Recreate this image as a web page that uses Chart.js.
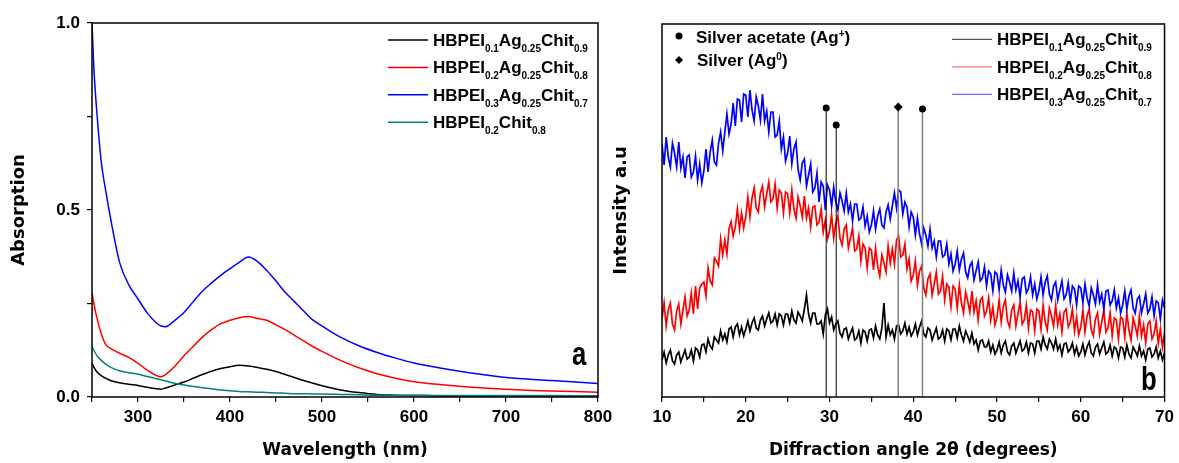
<!DOCTYPE html>
<html>
<head>
<meta charset="utf-8">
<script src="https://cdn.jsdelivr.net/npm/chart.js@4.4.1/dist/chart.umd.min.js"></script>
<style>
  html, body { margin: 0; padding: 0; background: #fff; }
  #wrap { position: relative; width: 1179px; height: 463px; overflow: hidden; background: #fff; }
  #uv { position: absolute; left: 0; top: 0; }
  #xrd { position: absolute; left: 600px; top: 0; }
</style>
</head>
<body>
<div id="wrap">
  <canvas id="uv" width="620" height="463"></canvas>
  <canvas id="xrd" width="579" height="463"></canvas>
</div>
<script>
// ---- panel a: UV-vis absorption ----
const wavelength = [250, 252, 255, 260, 265, 270, 280, 290, 300, 310, 320, 325, 330, 340, 350, 360, 370, 380, 390, 400,
  410, 420, 430, 440, 450, 460, 470, 480, 490, 500, 520, 540, 560, 580, 600, 630, 660, 700, 750, 800];
const absAg01 = [0.09, 0.08, 0.068, 0.057, 0.05, 0.044, 0.038, 0.034, 0.031, 0.026, 0.022, 0.021, 0.024, 0.032, 0.04, 0.05, 0.06, 0.069, 0.076, 0.081,
  0.085, 0.083, 0.079, 0.074, 0.068, 0.06, 0.052, 0.044, 0.037, 0.03, 0.019, 0.012, 0.007, 0.005, 0.004, 0.003, 0.003, 0.003, 0.003, 0.003];
const absAg02 = [0.28, 0.25, 0.215, 0.17, 0.14, 0.13, 0.117, 0.106, 0.09, 0.072, 0.057, 0.054, 0.06, 0.082, 0.11, 0.135, 0.16, 0.18, 0.196, 0.205,
  0.212, 0.215, 0.21, 0.205, 0.193, 0.18, 0.165, 0.15, 0.135, 0.122, 0.098, 0.078, 0.062, 0.05, 0.041, 0.033, 0.027, 0.021, 0.016, 0.013];
const absAg03 = [1.0, 0.88, 0.77, 0.63, 0.55, 0.48, 0.36, 0.3, 0.262, 0.225, 0.198, 0.19, 0.188, 0.205, 0.226, 0.255, 0.283, 0.305, 0.325, 0.343,
  0.36, 0.374, 0.362, 0.338, 0.31, 0.28, 0.255, 0.23, 0.206, 0.19, 0.16, 0.137, 0.119, 0.104, 0.091, 0.077, 0.065, 0.052, 0.044, 0.036];
const absChit = [0.134, 0.125, 0.112, 0.098, 0.088, 0.08, 0.07, 0.065, 0.061, 0.055, 0.049, 0.046, 0.043, 0.037, 0.032, 0.028, 0.025, 0.022, 0.019, 0.017,
  0.015, 0.014, 0.013, 0.012, 0.011, 0.01, 0.009, 0.009, 0.008, 0.008, 0.007, 0.006, 0.005, 0.005, 0.005, 0.004, 0.004, 0.004, 0.004, 0.003];
const uvXTicks = [300, 400, 500, 600, 700, 800];
const uvYTicks = [0, 0.5, 1];
const uvColors = ['#000000', '#ff0000', '#0000ff', '#008080'];
const uvLegend = [
  [['HBPEI'], ['0.1', 'sub'], ['Ag'], ['0.25', 'sub'], ['Chit'], ['0.9', 'sub']],
  [['HBPEI'], ['0.2', 'sub'], ['Ag'], ['0.25', 'sub'], ['Chit'], ['0.8', 'sub']],
  [['HBPEI'], ['0.3', 'sub'], ['Ag'], ['0.25', 'sub'], ['Chit'], ['0.7', 'sub']],
  [['HBPEI'], ['0.2', 'sub'], ['Chit'], ['0.8', 'sub']]
];

// ---- panel b: XRD, 2theta from 10 to 70 every 0.25 deg ----
const xrdStart = 10, xrdStep = 0.25;
const xrdAg01 = [
  37, 45, 34, 42, 47, 36, 33, 42, 45, 35, 41, 47, 38, 40, 47, 36, 49, 47, 40, 52,
  53, 45, 58, 51, 48, 60, 57, 54, 66, 57, 63, 55, 68, 70, 60, 70, 73, 62, 70, 61,
  68, 76, 66, 74, 79, 69, 67, 77, 81, 71, 78, 84, 74, 76, 83, 72, 83, 81, 72, 83,
  83, 74, 86, 77, 74, 85, 81, 76, 88, 102, 83, 74, 84, 84, 73, 73, 76, 63, 82, 88,
  74, 80, 67, 73, 76, 64, 60, 68, 69, 58, 64, 69, 57, 59, 66, 54, 67, 65, 56, 67,
  68, 59, 71, 62, 58, 69, 94, 60, 72, 62, 67, 58, 71, 72, 63, 66, 74, 63, 70, 61,
  65, 73, 62, 70, 76, 63, 60, 69, 67, 57, 63, 69, 58, 60, 67, 56, 68, 66, 57, 68,
  68, 59, 71, 62, 56, 66, 61, 55, 64, 53, 57, 47, 56, 57, 50, 50, 56, 45, 52, 43,
  47, 55, 44, 52, 56, 45, 42, 51, 54, 44, 50, 56, 46, 48, 55, 44, 54, 53, 44, 56,
  56, 48, 60, 52, 48, 58, 54, 48, 58, 47, 52, 42, 53, 54, 45, 48, 54, 43, 50, 41,
  45, 53, 42, 50, 55, 44, 41, 50, 53, 43, 49, 55, 43, 45, 52, 41, 50, 48, 39, 50,
  49, 40, 52, 43, 39, 50, 46, 41, 51, 41, 46, 37, 48, 49, 40, 43, 50, 39, 46, 37,
  44];
const xrdAg02 = [
  78, 94, 71, 87, 94, 73, 67, 86, 93, 73, 87, 100, 81, 87, 104, 83, 111, 88, 109, 113,
  115, 101, 129, 116, 112, 139, 136, 131, 158, 142, 157, 143, 168, 175, 161, 170, 188, 168, 184, 169,
  180, 200, 180, 199, 209, 189, 185, 204, 211, 190, 203, 215, 195, 198, 213, 189, 207, 204, 184, 205,
  203, 184, 207, 188, 179, 200, 191, 180, 201, 179, 189, 170, 190, 191, 172, 175, 188, 165, 177, 158,
  166, 182, 159, 174, 181, 159, 152, 168, 172, 149, 159, 169, 146, 148, 161, 136, 153, 149, 129, 149,
  147, 127, 149, 131, 121, 142, 134, 125, 151, 134, 148, 133, 157, 161, 140, 142, 153, 128, 138, 116,
  122, 136, 112, 126, 131, 109, 102, 118, 123, 102, 113, 125, 103, 106, 121, 97, 113, 110, 90, 111,
  108, 89, 112, 94, 84, 105, 96, 85, 106, 85, 96, 77, 97, 100, 81, 86, 99, 77, 90, 72,
  80, 97, 75, 91, 97, 76, 70, 87, 92, 71, 83, 95, 73, 77, 92, 69, 87, 85, 66, 88,
  86, 68, 92, 75, 67, 89, 81, 71, 92, 72, 83, 65, 85, 88, 70, 75, 88, 66, 80, 62,
  70, 87, 65, 81, 88, 67, 61, 78, 84, 63, 75, 87, 65, 69, 84, 61, 79, 77, 58, 80,
  78, 60, 84, 67, 57, 79, 71, 61, 81, 61, 72, 54, 73, 76, 58, 63, 76, 54, 68, 50,
  64];
const xrdAg03 = [
  253, 232, 260, 240, 230, 254, 244, 230, 255, 229, 240, 219, 240, 242, 220, 225, 241, 217, 233, 214,
  226, 248, 225, 245, 257, 235, 232, 254, 265, 246, 265, 283, 263, 273, 294, 271, 298, 297, 275, 303,
  302, 280, 307, 287, 276, 300, 291, 277, 303, 276, 286, 265, 285, 285, 260, 262, 276, 248, 260, 236,
  244, 261, 233, 248, 255, 227, 217, 234, 238, 211, 222, 233, 205, 209, 224, 195, 215, 211, 187, 212,
  207, 191, 210, 195, 187, 204, 196, 186, 204, 185, 193, 176, 193, 193, 177, 179, 190, 171, 181, 165,
  172, 186, 168, 181, 188, 172, 169, 185, 192, 178, 191, 204, 189, 207, 205, 183, 195, 190, 170, 185,
  180, 162, 179, 163, 153, 169, 162, 151, 168, 149, 156, 140, 156, 156, 140, 142, 153, 133, 143, 126,
  133, 146, 127, 138, 144, 125, 119, 131, 135, 117, 126, 135, 116, 119, 130, 111, 126, 123, 106, 125,
  123, 107, 127, 112, 105, 122, 115, 106, 124, 107, 116, 100, 118, 120, 104, 108, 120, 102, 113, 98,
  106, 120, 102, 115, 121, 103, 97, 111, 115, 97, 107, 116, 98, 102, 114, 95, 111, 108, 92, 111,
  109, 94, 113, 99, 91, 109, 102, 93, 112, 95, 103, 88, 106, 107, 92, 96, 107, 89, 99, 84,
  92, 106, 88, 101, 107, 89, 84, 98, 101, 84, 93, 103, 84, 88, 100, 81, 96, 94, 78, 97,
  89];
const xrdXTicks = [10, 20, 30, 40, 50, 60, 70];
const xrdColors = ['#000000', '#ff0000', '#0000ff'];
const xrdLegendColors = ['#555555', '#ff7070', '#7070ff'];
const xrdLegend = uvLegend.slice(0, 3);
const peakAngles = [29.6, 30.8, 38.2, 41.1];
const peakHeights = [289, 272, 290, 288];
const peakPhase = ['acetate', 'acetate', 'silver', 'acetate'];
const phaseLegend = [
  [['Silver acetate (Ag'], ['+', 'sup'], [')']],
  [['Silver (Ag'], ['0', 'sup'], [')']]
];

const FONT = '"Liberation Sans", Arial, sans-serif';
const TITLE_FONT = { family: '"DejaVu Sans", Verdana, sans-serif', size: 17, weight: 'bold' };
const YTITLE_FONT = { family: '"DejaVu Sans", Verdana, sans-serif', size: 18, weight: 'bold' };
const TICK_FONT = { family: FONT, size: 17, weight: 'bold' };

function drawRich(ctx, x, y, parts) {
  parts.forEach(([txt, kind]) => {
    ctx.font = kind ? 'bold 10px ' + FONT : 'bold 17px ' + FONT;
    const dy = kind === 'sub' ? 6 : kind === 'sup' ? -6 : 0;
    ctx.fillText(txt, x, y + dy);
    x += ctx.measureText(txt).width;
  });
}

function panelLetter(ctx, letter, x, y) {
  ctx.save();
  ctx.fillStyle = '#000';
  ctx.font = 'bold 33px ' + FONT;
  ctx.textBaseline = 'alphabetic';
  ctx.scale(0.78, 1);
  ctx.fillText(letter, x / 0.78, y);
  ctx.restore();
}

const frame = {
  id: 'frame',
  afterDatasetsDraw(chart) {
    const { ctx, chartArea: a } = chart;
    ctx.save();
    ctx.strokeStyle = '#000';
    ctx.lineWidth = 1.5;
    ctx.strokeRect(a.left, a.top, a.right - a.left, a.bottom - a.top);
    ctx.restore();
  }
};

function tickAxis(min, max, step, labels, fmt) {
  return {
    type: 'linear', min, max,
    border: { display: false },
    grid: { drawOnChartArea: false, color: '#000', lineWidth: 1.2, tickLength: 5 },
    ticks: {
      stepSize: step, autoSkip: false, maxRotation: 0, color: '#000', font: TICK_FONT,
      callback: v => labels.includes(v) ? fmt(v) : ''
    }
  };
}

// ---- chart a ----
const uvSeries = [absAg01, absAg02, absAg03, absChit];
const uvX = tickAxis(250, 800, 50, uvXTicks, v => String(v));
uvX.ticks.padding = 5;
uvX.title = { display: true, text: 'Wavelength (nm)', color: '#000', font: TITLE_FONT, padding: { top: 0, bottom: 2 } };
uvX.afterFit = s => { s.height = 66; };
const uvY = tickAxis(0, 1, 0.25, uvYTicks, v => v.toFixed(1));
uvY.ticks.padding = 7;
uvY.title = { display: true, text: 'Absorption', color: '#000', font: YTITLE_FONT, padding: { top: 9, bottom: 0 } };
uvY.afterFit = s => { s.width = 92; };

new Chart(document.getElementById('uv'), {
  type: 'line',
  data: {
    datasets: uvSeries.map((vals, i) => ({
      data: wavelength.map((w, j) => ({ x: w, y: vals[j] })),
      borderColor: uvColors[i],
      borderWidth: 1.5,
      pointRadius: 0,
      cubicInterpolationMode: 'monotone',
      order: 4 - i
    }))
  },
  options: {
    responsive: false, animation: false, devicePixelRatio: 1,
    layout: { padding: { left: 0, top: 23, right: 22, bottom: 0 } },
    plugins: { legend: { display: false }, tooltip: { enabled: false } },
    scales: { x: uvX, y: uvY }
  },
  plugins: [frame, {
    id: 'uvLegend',
    afterDraw(chart) {
      const ctx = chart.ctx;
      ctx.save();
      ctx.textBaseline = 'alphabetic';
      uvLegend.forEach((parts, i) => {
        const y = 40 + i * 27.4;
        ctx.strokeStyle = uvColors[i];
        ctx.lineWidth = 1.5;
        ctx.beginPath(); ctx.moveTo(388, y); ctx.lineTo(428, y); ctx.stroke();
        ctx.fillStyle = '#000';
        drawRich(ctx, 433, y + 6, parts);
      });
      ctx.restore();
      panelLetter(ctx, 'a', 572, 365);
    }
  }]
});

// ---- chart b ----
const twoTheta = xrdAg01.map((_, i) => xrdStart + i * xrdStep);
const xrdSeries = [xrdAg01, xrdAg02, xrdAg03];
const xrdX = tickAxis(10, 70, 5, xrdXTicks, v => String(v));
xrdX.ticks.padding = 5;
xrdX.title = { display: true, text: 'Diffraction angle 2\u03B8 (degrees)', color: '#000', font: TITLE_FONT, padding: { top: 0, bottom: 2 } };
xrdX.afterFit = s => { s.height = 66; };
const xrdY = {
  type: 'linear', min: 0, max: 373,
  border: { display: false },
  grid: { display: false },
  ticks: { display: false },
  title: { display: true, text: 'Intensity a.u', color: '#000', font: YTITLE_FONT, padding: { top: 11, bottom: 0 } },
  afterFit: s => { s.width = 62; }
};

const curveSets = xrdSeries.map((vals, i) => ({
  data: twoTheta.map((t, j) => ({ x: t, y: vals[j] })),
  borderColor: xrdColors[i],
  borderWidth: 1.7,
  pointRadius: 0,
  tension: 0,
  order: 3 - i
}));
const peakSets = peakAngles.map((a, i) => ({
  data: [{ x: a, y: 0 }, { x: a, y: peakHeights[i] }],
  borderColor: i < 2 ? '#000000' : '#808080',
  borderWidth: i < 2 ? 1 : 1.5,
  pointRadius: [0, peakPhase[i] === 'silver' ? 4.5 : 3.5],
  pointStyle: peakPhase[i] === 'silver' ? 'rectRot' : 'circle',
  pointBackgroundColor: '#000',
  pointBorderColor: '#000',
  pointBorderWidth: 0,
  order: 0
}));

new Chart(document.getElementById('xrd'), {
  type: 'line',
  data: { datasets: curveSets.concat(peakSets) },
  options: {
    responsive: false, animation: false, devicePixelRatio: 1,
    layout: { padding: { left: 0, top: 24, right: 12, bottom: 0 } },
    plugins: { legend: { display: false }, tooltip: { enabled: false } },
    scales: { x: xrdX, y: xrdY }
  },
  plugins: [frame, {
    id: 'xrdLegend',
    afterDraw(chart) {
      const ctx = chart.ctx;
      ctx.save();
      ctx.textBaseline = 'alphabetic';
      xrdLegend.forEach((parts, i) => {
        const y = 39.3 + i * 27.5;
        ctx.strokeStyle = xrdLegendColors[i];
        ctx.lineWidth = 1.2;
        ctx.beginPath(); ctx.moveTo(352, y); ctx.lineTo(392, y); ctx.stroke();
        ctx.fillStyle = '#000';
        drawRich(ctx, 397, y + 6, parts);
      });
      // phase markers
      ctx.fillStyle = '#000';
      ctx.beginPath(); ctx.arc(79, 36, 3.5, 0, Math.PI * 2); ctx.fill();
      ctx.beginPath();
      ctx.moveTo(79, 56); ctx.lineTo(83, 60); ctx.lineTo(79, 64); ctx.lineTo(75, 60);
      ctx.closePath(); ctx.fill();
      drawRich(ctx, 96, 42.5, phaseLegend[0]);
      drawRich(ctx, 97, 66, phaseLegend[1]);
      ctx.restore();
      panelLetter(ctx, 'b', 541, 390);
    }
  }]
});
</script>
</body>
</html>
